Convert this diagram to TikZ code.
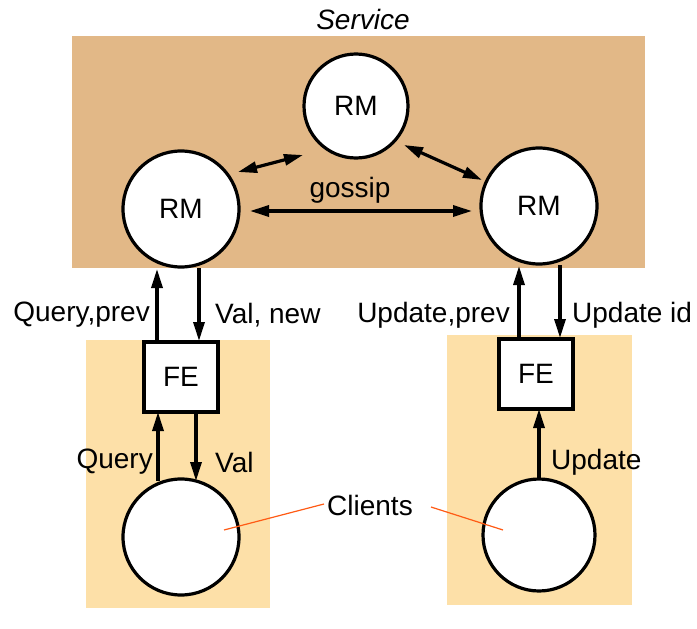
\documentclass[tikz,border=0pt]{standalone}
\usepackage{fontspec}
\setmainfont{Liberation Sans}
\usetikzlibrary{arrows.meta}
\definecolor{servbg}{HTML}{E2B887}
\definecolor{clibg}{HTML}{FDE0A8}
\definecolor{orln}{HTML}{FF5A14}
\begin{document}
\begin{tikzpicture}[x=1pt,y=-1pt,
  lbl/.style={font=\fontsize{28}{32}\selectfont, inner sep=0pt},
  circ/.style={circle, draw, line width=3.2pt, fill=white, minimum size=#1, inner sep=0pt, font=\fontsize{28}{32}\selectfont},
  fe/.style={rectangle, draw, line width=3.2pt, fill=white, minimum width=74pt, minimum height=70pt, inner sep=0pt, font=\fontsize{28}{32}\selectfont},
  arr/.style={line width=3.2pt, -{Triangle[length=19pt,width=11pt]}},
  darr/.style={line width=3.2pt, {Triangle[length=19pt,width=11pt]}-{Triangle[length=19pt,width=11pt]}},
  pointer/.style={orln, line width=1.2pt}]
\useasboundingbox (0,0) rectangle (697,629);
% backgrounds
\fill[servbg] (72,36) rectangle (645,268);
\fill[clibg] (86,340) rectangle (270,608);
\fill[clibg] (447,335) rectangle (632,605);
\node[lbl, font=\fontsize{28}{32}\selectfont\itshape] (svc) at (363,19) {Service};
% RMs
\node[circ=104pt] (rmt) at (356,106) {RM};
\node[circ=116pt] (rml) at (181,209) {RM};
\node[circ=116pt] (rmr) at (539,206) {RM};
% gossip arrows
\coordinate (g1) at (250,211);
\coordinate (g2) at (472,211);
\draw[darr] (g1) -- (g2);
\node[lbl] (gos) at (350,190) {gossip};
\coordinate (a1) at (238,172);
\coordinate (a2) at (303,155);
\draw[darr] (a1) -- (a2);
\coordinate (b1) at (404,145);
\coordinate (b2) at (482,180);
\draw[darr] (b1) -- (b2);
% FEs
\node[fe] (fel) at (181,377) {FE};
\node[fe] (fer) at (536,374) {FE};
% clients
\node[circ=116pt] (cl) at (181,537) {};
\node[circ=112pt] (cr) at (539,535) {};
% arrows FE <-> RM
\coordinate (qp0) at (157,342);
\coordinate (qp1) at (157,269);
\draw[arr] (qp0) -- (qp1);
\coordinate (vn0) at (199,268);
\coordinate (vn1) at (199,341);
\draw[arr] (vn0) -- (vn1);
\coordinate (up0) at (519,339);
\coordinate (up1) at (519,266);
\draw[arr] (up0) -- (up1);
\coordinate (ui0) at (560,265);
\coordinate (ui1) at (560,338);
\draw[arr] (ui0) -- (ui1);
\node[lbl, anchor=east] (lqp) at (150,315) {Query,prev};
\node[lbl, anchor=west] (lvn) at (215,315) {Val, new};
\node[lbl, anchor=east] (lup) at (510,315) {Update,prev};
\node[lbl, anchor=west] (lui) at (572,315) {Update id};
% arrows client <-> FE
\coordinate (q0) at (158,481);
\coordinate (q1) at (158,412);
\draw[arr] (q0) -- (q1);
\coordinate (v0) at (196,412);
\coordinate (v1) at (196,481);
\draw[arr] (v0) -- (v1);
\coordinate (u0) at (539,479);
\coordinate (u1) at (539,409);
\draw[arr] (u0) -- (u1);
\node[lbl, anchor=east] (lq) at (153,462) {Query};
\node[lbl, anchor=west] (lv) at (215,462) {Val};
\node[lbl, anchor=west] (lu) at (551,462) {Update};
% Clients label
\node[lbl] (clients) at (370,505) {Clients};
\coordinate (p1) at (224,530);
\coordinate (p2) at (324,504);
\coordinate (p3) at (431,507);
\coordinate (p4) at (503,530);
\draw[pointer] (p1) -- (p2);
\draw[pointer] (p3) -- (p4);
\end{tikzpicture}
\end{document}
